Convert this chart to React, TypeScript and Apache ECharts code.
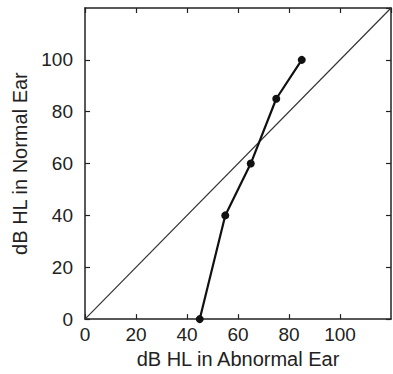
import React, { useEffect, useRef } from "react";
import * as echarts from "echarts";

const abnormalEar = [45, 55, 65, 75, 85];
const normalEar = [0, 40, 60, 85, 100];
const diagonal = [0, 120];
const xName = "dB HL in Abnormal Ear";
const yName = "dB HL in Normal Ear";

export default function App() {
  const ref = useRef<HTMLDivElement>(null);
  useEffect(() => {
    if (!ref.current) return;
    const chart = echarts.init(ref.current, undefined, { renderer: "svg" });
    const font = "'Liberation Sans', Arial, Helvetica, sans-serif";
    const axisLine = { onZero: false, lineStyle: { color: "#222", width: 1.5 } };
    const tick = { inside: true, length: 5, lineStyle: { color: "#222", width: 1.2 } };
    chart.setOption({
      animation: false,
      backgroundColor: "#fff",
      grid: { left: 85, top: 8, right: 2, bottom: 52, containLabel: false },
      xAxis: [
        {
          type: "value", min: 0, max: 120, interval: 20, position: "bottom",
          name: xName, nameLocation: "middle", nameGap: 26,
          nameTextStyle: { fontFamily: font, fontSize: 20, color: "#222" },
          axisLine, axisTick: tick, splitLine: { show: false },
          axisLabel: { showMaxLabel: false, margin: 6, fontFamily: font, fontSize: 19, color: "#222" },
        },
        {
          type: "value", min: 0, max: 120, interval: 20, position: "top",
          axisLine, axisTick: tick, splitLine: { show: false }, axisLabel: { show: false },
        },
      ],
      yAxis: [
        {
          type: "value", min: 0, max: 120, interval: 20, position: "left",
          name: yName, nameLocation: "middle", nameGap: 35,
          nameTextStyle: { fontFamily: font, fontSize: 20, color: "#222" },
          axisLine, axisTick: tick, splitLine: { show: false },
          axisLabel: { showMaxLabel: false, margin: 12, fontFamily: font, fontSize: 19, color: "#222" },
        },
        {
          type: "value", min: 0, max: 120, interval: 20, position: "right",
          axisLine, axisTick: tick, splitLine: { show: false }, axisLabel: { show: false },
        },
      ],
      series: [
        {
          type: "line",
          data: diagonal.map((v) => [v, v]),
          showSymbol: false, symbol: "none",
          lineStyle: { color: "#333", width: 1.2 },
          silent: true,
        },
        {
          type: "line",
          data: abnormalEar.map((x, i) => [x, normalEar[i]]),
          symbol: "circle", symbolSize: 8,
          itemStyle: { color: "#111" },
          lineStyle: { color: "#111", width: 2.2 },
        },
      ],
    });
    return () => chart.dispose();
  }, []);
  return <div ref={ref} style={{ width: 393, height: 374, position: "absolute", left: 0, top: 0 }} />;
}
